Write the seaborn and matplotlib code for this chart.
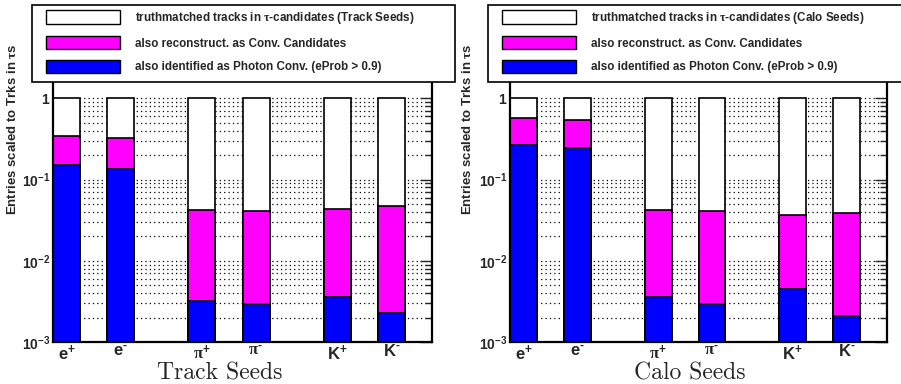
import pandas as pd
import matplotlib.pyplot as plt
import seaborn as sns
from matplotlib.patches import Patch, Rectangle
from matplotlib.ticker import FixedLocator, LogLocator, NullFormatter

particles = ['e+', 'e-', 'pi+', 'pi-', 'K+', 'K-']
bin_centers = [0.5, 2.5, 5.5, 7.5, 10.5, 12.5]
tick_labels = [r'$\mathbf{e^{+}}$', r'$\mathbf{e^{\text{-}}}$', r'$\pi^{\mathbf{+}}$',
               r'$\pi^{\mathbf{\text{-}}}$', r'$\mathbf{K^{+}}$', r'$\mathbf{K^{\text{-}}}$']

# fractions, normalised to the truthmatched tracks
track_total = [1, 1, 1, 1, 1, 1]
track_conv = [0.343, 0.321, 0.0428, 0.0411, 0.0431, 0.0474]
track_photon = [0.151, 0.134, 0.00316, 0.00296, 0.00358, 0.0023]

calo_total = [1, 1, 1, 1, 1, 1]
calo_conv = [0.577, 0.54, 0.0428, 0.0411, 0.0371, 0.0393]
calo_photon = [0.265, 0.242, 0.00358, 0.00296, 0.00454, 0.00207]

seed_names = ['Track Seeds', 'Calo Seeds']

rows = []
for seed, tot, conv, pho in [('Track Seeds', track_total, track_conv, track_photon),
                             ('Calo Seeds', calo_total, calo_conv, calo_photon)]:
    for p, x, a, b, c in zip(particles, bin_centers, tot, conv, pho):
        rows.append(dict(seed=seed, particle=p, x=x, total=a, conv=b, photon=c))
df = pd.DataFrame(rows)

sns.set_style('white')
plt.rcParams['font.family'] = ['Liberation Sans', 'DejaVu Sans']
plt.rcParams['font.weight'] = 'bold'
plt.rcParams['mathtext.fontset'] = 'custom'
plt.rcParams['mathtext.bf'] = 'Liberation Sans:bold'
plt.rcParams['mathtext.rm'] = 'Liberation Sans:bold'
plt.rcParams['mathtext.it'] = 'Liberation Serif'

W, H = 901, 384
fig = plt.figure(figsize=(W / 100, H / 100), dpi=100)

layers = [('total', 'white'), ('conv', '#ff00ff'), ('photon', '#0000ff')]
panels = [(53, 379, 220, -0.09), (510, 377, 690, -0.095)]

for seed, (left, width, title_x, lab_x) in zip(seed_names, panels):
    ax = fig.add_axes([left / W, 42 / H, width / W, 268 / H])
    ax.set_yscale('log')
    sub = df[df.seed == seed]
    for col, colour in layers:
        sns.barplot(data=sub, x='x', y=col, native_scale=True, width=0.5,
                    color=colour, edgecolor='black', linewidth=1.2,
                    saturation=1, errorbar=None, ax=ax, zorder=1)
    ax.set_xlim(0, 14)
    ax.set_ylim(1e-3, 10 ** 0.3)
    ax.set_axisbelow(True)
    ax.yaxis.set_major_locator(FixedLocator([1e-3, 1e-2, 1e-1, 1]))
    ax.yaxis.set_minor_locator(LogLocator(base=10, subs=range(2, 10)))
    ax.yaxis.set_minor_formatter(NullFormatter())
    ax.set_yticklabels([r'$\mathbf{10^{-3}}$', r'$\mathbf{10^{-2}}$',
                        r'$\mathbf{10^{-1}}$', r'$\mathbf{1}$'], fontsize=10)
    ax.grid(axis='y', which='both', color='black', linestyle=(0, (1, 2.5)), linewidth=0.9)
    ax.grid(axis='x', visible=False)
    ax.tick_params(axis='y', which='major', direction='in', right=True, length=9, width=1, pad=2)
    ax.tick_params(axis='y', which='minor', direction='in', right=True, length=5, width=1)
    ax.set_xticks(bin_centers)
    ax.set_xticklabels(tick_labels, fontsize=12)
    ax.set_xticks([4, 9], minor=True)
    ax.tick_params(axis='x', which='major', length=0, pad=1)
    ax.tick_params(axis='x', which='minor', direction='in', length=7, width=1)
    ax.set_xlabel('')
    ax.set_ylabel(r'Entries scaled to Trks in $\tau$s', fontsize=9.5, fontweight='bold')
    ax.yaxis.set_label_coords(lab_x, 0.793)
    for s in ax.spines.values():
        s.set_linewidth(1.6)
        s.set_color('black')
    fig.text(title_x / W, 4 / H, seed, family='cmr10', fontsize=17,
             fontweight='normal', ha='center', va='baseline')

# legend boxes, drawn over the top of the axes
legend_boxes = [(32, 423), (488, 420)]
for seed, (bx, bw) in zip(seed_names, legend_boxes):
    fig.patches.append(Rectangle((bx / W, 1 - 82 / H), bw / W, 77 / H,
                                 transform=fig.transFigure, facecolor='white',
                                 edgecolor='black', linewidth=1.2, zorder=3))
    handles = [Patch(facecolor='white', edgecolor='black', linewidth=1),
               Patch(facecolor='#ff00ff', edgecolor='black', linewidth=1),
               Patch(facecolor='#0000ff', edgecolor='black', linewidth=1)]
    labels = [r'truthmatched tracks in $\tau$-candidates (' + seed + ')',
              'also reconstruct. as Conv. Candidates',
              'also identified as Photon Conv. (eProb > 0.9)']
    size = 8.4
    fs = size * 100 / 72
    leg = fig.legend(handles, labels, loc='upper left', frameon=False,
                     bbox_to_anchor=((bx + 14) / W, 1 - 10 / H),
                     bbox_transform=fig.transFigure, borderpad=0, borderaxespad=0,
                     handlelength=74 / fs, handleheight=16 / fs,
                     labelspacing=10 / fs, handletextpad=15 / fs,
                     prop={'size': size, 'weight': 'bold'})
    leg.set_zorder(5)

fig.savefig('out.png', dpi=100)
